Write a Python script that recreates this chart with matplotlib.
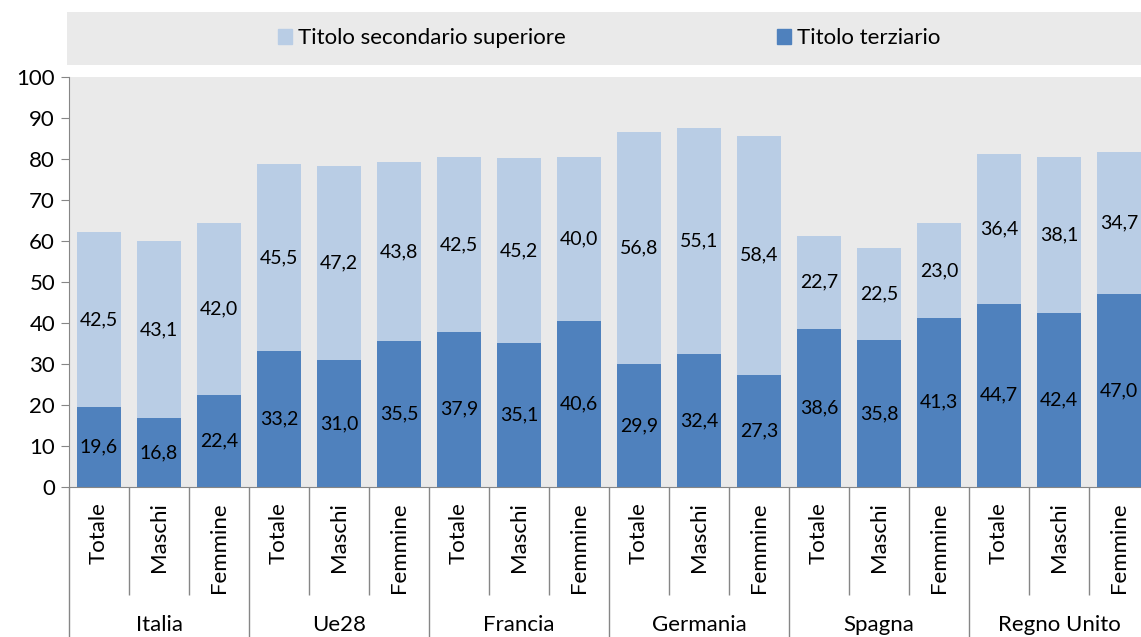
import matplotlib
matplotlib.use("Agg")
import matplotlib.pyplot as plt
from matplotlib.patches import Patch

plt.rcParams['font.family'] = ['Lato', 'DejaVu Sans']

# Data
paesi = ["Italia", "Ue28", "Francia", "Germania", "Spagna", "Regno Unito"]
sesso = ["Totale", "Maschi", "Femmine"]
terziario = [19.6, 16.8, 22.4, 33.2, 31.0, 35.5, 37.9, 35.1, 40.6,
             29.9, 32.4, 27.3, 38.6, 35.8, 41.3, 44.7, 42.4, 47.0]
secondario = [42.5, 43.1, 42.0, 45.5, 47.2, 43.8, 42.5, 45.2, 40.0,
              56.8, 55.1, 58.4, 22.7, 22.5, 23.0, 36.4, 38.1, 34.7]
y_ticks = [0, 10, 20, 30, 40, 50, 60, 70, 80, 90, 100]

LIGHT = "#B9CDE5"
DARK = "#4F81BD"
BG = "#EAEAEA"
AXIS_GREY = "#868686"

W, H = 1141, 637


def fmt(v):
    return f"{v:.1f}".replace(".", ",")


def main():
    fig = plt.figure(figsize=(W / 100, H / 100), dpi=100)

    # plot area runs a bit past the right edge, like the source
    ax = fig.add_axes([69 / W, 150 / H, 1080 / W, 410 / H])
    ax.set_facecolor(BG)

    x = list(range(len(terziario)))
    labels = [sesso[i % 3] for i in x]
    b1 = ax.bar(x, terziario, width=0.72, color=DARK, zorder=2)
    b2 = ax.bar(x, secondario, width=0.72, bottom=terziario, color=LIGHT, zorder=2)
    ax.bar_label(b1, labels=[fmt(v) for v in terziario], label_type="center", fontsize=14)
    ax.bar_label(b2, labels=[fmt(v) for v in secondario], label_type="center", fontsize=14)

    ax.set_xlim(-0.5, len(x) - 0.5)
    ax.set_ylim(0, 100)
    ax.set_yticks(y_ticks)
    ax.tick_params(axis="y", direction="out", length=6, color=AXIS_GREY, labelsize=16, pad=4)
    ax.set_xticks(x)
    ax.set_xticklabels(labels, rotation=90, fontsize=16)
    ax.tick_params(axis="x", length=0, pad=11)

    for s in ["top", "right"]:
        ax.spines[s].set_visible(False)
    for s in ["left", "bottom"]:
        ax.spines[s].set_color(AXIS_GREY)

    # category separators and group separators below the axis
    tr = ax.get_xaxis_transform()
    for k in range(len(x) + 1):
        bound = k - 0.5
        ymin = -0.4 if k % 3 == 0 else -0.263
        ax.vlines(bound, ymin, 0, transform=tr, colors=AXIS_GREY, lw=1, clip_on=False)
    for g, nome in enumerate(paesi):
        ax.text(g * 3 + 1, -0.337, nome, transform=tr, ha="center", va="center", fontsize=16)

    # legend band
    ax_leg = fig.add_axes([67 / W, 1 - 65 / H, 1 - 67 / W, 53 / H])
    ax_leg.set_facecolor(BG)
    ax_leg.set_xticks([])
    ax_leg.set_yticks([])
    for s in ax_leg.spines.values():
        s.set_visible(False)
    handles = [Patch(color=LIGHT, label="Titolo secondario superiore"),
               Patch(color=DARK, label="Titolo terziario")]
    fig.legend(handles=handles, ncol=2, loc="center", bbox_to_anchor=(609 / W, 1 - 38.5 / H),
               frameon=False, fontsize=16, handlelength=0.65, handleheight=0.65,
               handletextpad=0.25, columnspacing=9.5)

    fig.savefig("out.png", dpi=100)


if __name__ == "__main__":
    main()
